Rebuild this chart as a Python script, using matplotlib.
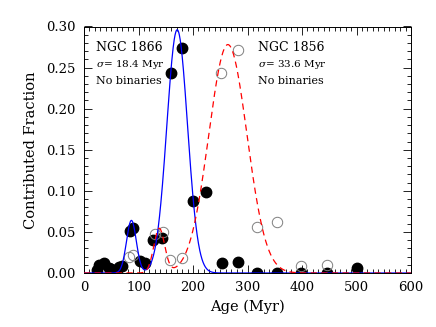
import numpy as np
import matplotlib
matplotlib.use("Agg")
import matplotlib.pyplot as plt
from matplotlib.ticker import MultipleLocator

# NGC 1866 (filled) contributed fractions
age_1866 = [24, 28, 36, 45, 50, 64, 70, 84, 90, 103, 112, 127, 142.5,
            159.6, 179, 200.6, 224, 252.6, 283, 317, 355, 397.5, 446, 500]
frac_1866 = [0.004, 0.0095, 0.0125, 0.006, 0.0045, 0.0077, 0.0085, 0.051, 0.055,
             0.014, 0.012, 0.040, 0.042, 0.244, 0.274, 0.088, 0.098, 0.0118,
             0.0137, 0.0, 0.0, 0.0, 0.0, 0.0057]

# NGC 1856 (open) contributed fractions
age_1856 = [82, 90, 130, 145.6, 158, 179, 252, 283, 317, 355, 397.5, 446]
frac_1856 = [0.020, 0.022, 0.048, 0.050, 0.016, 0.018, 0.243, 0.272,
             0.0556, 0.0624, 0.0085, 0.0097]

# gaussian fit components: (centre, sigma, amplitude)
fit_1866 = [(171, 19.0, 0.296), (87, 9.0, 0.064)]
fit_1856 = [(264, 35.0, 0.278), (138, 10.0, 0.054)]

labels_1866 = ["NGC 1866", r"$\sigma$= 18.4 Myr", "No binaries"]
labels_1856 = ["NGC 1856", r"$\sigma$= 33.6 Myr", "No binaries"]


def model(x, comps):
    y = np.zeros_like(x)
    for mu, sig, amp in comps:
        y += amp * np.exp(-(x - mu) ** 2 / (2 * sig ** 2))
    return y


plt.rcParams['font.family'] = ['DejaVu Serif']
plt.rcParams['mathtext.fontset'] = 'dejavuserif'

fig = plt.figure(figsize=(4.36, 3.27), dpi=100)
ax = fig.add_axes([84 / 436, 1 - 273 / 327, 327 / 436, 246.5 / 327])

xs = np.linspace(0, 600, 1201)

ax.plot(age_1866, frac_1866, 'o', ms=7.5, color='black', zorder=2)
ax.plot(age_1856, frac_1856, 'o', ms=7.5, mfc='none', mec='#7f7f7f',
        mew=0.7, zorder=2)
ax.plot(xs, model(xs, fit_1866), color='blue', lw=0.9, zorder=3)
ax.plot(xs, model(xs, fit_1856), color='red', lw=0.9, ls=(0, (5, 3.5)),
        zorder=3)

ax.set_xlim(0, 600)
ax.set_ylim(0, 0.30)
ax.xaxis.set_major_locator(MultipleLocator(100))
ax.xaxis.set_minor_locator(MultipleLocator(10))
ax.yaxis.set_major_locator(MultipleLocator(0.05))
ax.yaxis.set_minor_locator(MultipleLocator(0.01))
ax.yaxis.set_major_formatter(matplotlib.ticker.FormatStrFormatter('%.2f'))
ax.tick_params(which='both', direction='in', top=True, right=True,
               labelsize=9.5, width=0.6)
ax.tick_params(which='major', length=6, pad=6)
ax.tick_params(which='minor', length=3)
for s in ax.spines.values():
    s.set_linewidth(0.7)

ax.set_xlabel('Age (Myr)', fontsize=10.5, labelpad=4)
ax.set_ylabel('Contributed Fraction', fontsize=10.5, labelpad=6)

sizes = [9, 7.5, 8]
ys = [0.2746, 0.254, 0.2336]
for t, y, fs in zip(labels_1866, ys, sizes):
    ax.text(22, y, t, fontsize=fs, va='center', ha='left')
for t, y, fs in zip(labels_1856, ys, sizes):
    ax.text(320, y, t, fontsize=fs, va='center', ha='left')

fig.savefig('out.png', dpi=100)
